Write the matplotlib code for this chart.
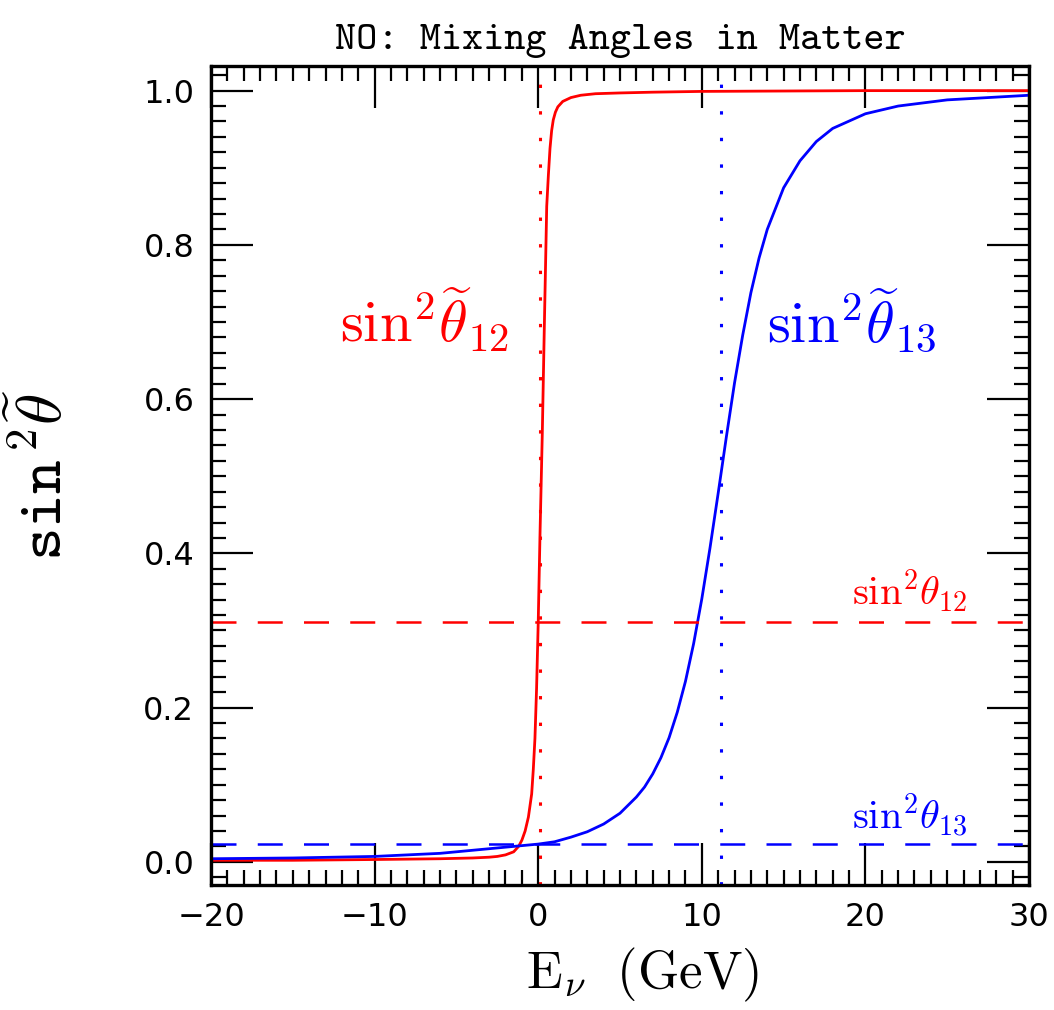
import os
import numpy as np
import matplotlib
matplotlib.use("Agg")
import matplotlib.pyplot as plt
import matplotlib.ticker as mt
from matplotlib.font_manager import FontProperties

plt.rcParams['mathtext.fontset'] = 'cm'

# neutrino energy (GeV) and sin^2 of the matter mixing angles
e_12 = [-20, -15, -10, -6, -4, -3, -2.5, -2, -1.5, -1.2, -1.0, -0.8, -0.6, -0.4,
        -0.3, -0.2, -0.1, 0.0, 0.11, 0.25, 0.37, 0.52, 0.62, 0.72, 0.82, 0.92,
        1.05, 1.2, 1.5, 2.0, 2.6, 3.5, 5, 7, 10, 20, 30]
s2_12 = [0.002, 0.002, 0.003, 0.004, 0.005, 0.006, 0.007, 0.009, 0.013, 0.02,
         0.028, 0.04, 0.058, 0.088, 0.12, 0.16, 0.225, 0.31, 0.425, 0.556, 0.69,
         0.85, 0.89, 0.925, 0.948, 0.962, 0.972, 0.979, 0.986, 0.991, 0.994,
         0.996, 0.997, 0.998, 0.999, 1.0, 1.0]

e_13 = [-20, -15, -10, -6, -3.5, -1, 0, 1, 2, 3, 4, 5, 6, 6.5, 7, 7.5, 8, 8.5, 9,
        9.5, 10, 10.5, 11, 11.5, 12, 12.5, 13, 13.5, 14, 15, 16, 17, 18, 20, 22,
        25, 30]
s2_13 = [0.004, 0.005, 0.007, 0.011, 0.016, 0.021, 0.023, 0.026, 0.032, 0.039,
         0.049, 0.063, 0.084, 0.097, 0.114, 0.135, 0.161, 0.194, 0.234, 0.283,
         0.341, 0.407, 0.478, 0.551, 0.621, 0.683, 0.738, 0.783, 0.82, 0.874,
         0.909, 0.934, 0.951, 0.970, 0.980, 0.988, 0.994]

# vacuum values and resonance energies
vac_12 = 0.311
vac_13 = 0.023
res_12 = 0.11
res_13 = 11.2

# typewriter font shipped with matplotlib
tt = FontProperties(fname=os.path.join(matplotlib.get_data_path(),
                                       'fonts', 'ttf', 'cmtt10.ttf'), size=29)

fig = plt.figure(figsize=(10.54, 10.10), dpi=100)
ax = fig.add_axes([0.2002, 0.1238, 0.7761, 0.8109])

lw = 2.0
ax.plot(e_12, s2_12, color='#ff0000', lw=lw)
ax.plot(e_13, s2_13, color='#0000ff', lw=lw)

ax.axhline(vac_12, color='#ff0000', lw=1.8, linestyle=(0, (10, 8.5)))
ax.axhline(vac_13, color='#0000ff', lw=1.8, linestyle=(0, (10, 8.5)))
ax.axvline(res_12, color='#ff0000', lw=2.2, linestyle=(0, (1.1, 7.6)))
ax.axvline(res_13, color='#0000ff', lw=2.2, linestyle=(0, (1.1, 7.6)))

ax.set_xlim(-20, 30)
ax.set_ylim(-0.03, 1.032)

ax.xaxis.set_major_locator(mt.MultipleLocator(10))
ax.xaxis.set_minor_locator(mt.MultipleLocator(1))
ax.yaxis.set_major_locator(mt.MultipleLocator(0.2))
ax.yaxis.set_minor_locator(mt.MultipleLocator(0.02))
ax.yaxis.set_major_formatter(mt.FormatStrFormatter('%.1f'))

ax.tick_params(which='both', direction='in', top=True, right=True, width=1.6,
               labelsize=23, pad=12)
ax.tick_params(which='major', length=30)
ax.tick_params(which='minor', length=11)
for sp in ax.spines.values():
    sp.set_linewidth(2.4)

ax.set_title('NO: Mixing Angles in Matter', fontproperties=tt, pad=12)
ax.set_xlabel(r'$\mathrm{E}_\nu\ \ \mathrm{(GeV)}$', fontsize=38, labelpad=8)
ax.xaxis.set_label_coords(0.527, -0.075)
ax.set_ylabel(r'$\mathtt{sin}^{\,2}\widetilde{\theta}$', fontsize=46)
ax.yaxis.set_label_coords(-0.166, 0.5)

ax.text(-12.1, 0.674, r'$\mathrm{sin}^2\widetilde{\theta}_{12}$', color='#ff0000',
        fontsize=42)
ax.text(14.0, 0.674, r'$\mathrm{sin}^2\widetilde{\theta}_{13}$', color='#0000ff',
        fontsize=42)
ax.text(19.2, 0.333, r'$\mathrm{sin}^2\theta_{12}$', color='#ff0000', fontsize=29)
ax.text(19.2, 0.0415, r'$\mathrm{sin}^2\theta_{13}$', color='#0000ff', fontsize=29)

fig.savefig('out.png', dpi=100)
